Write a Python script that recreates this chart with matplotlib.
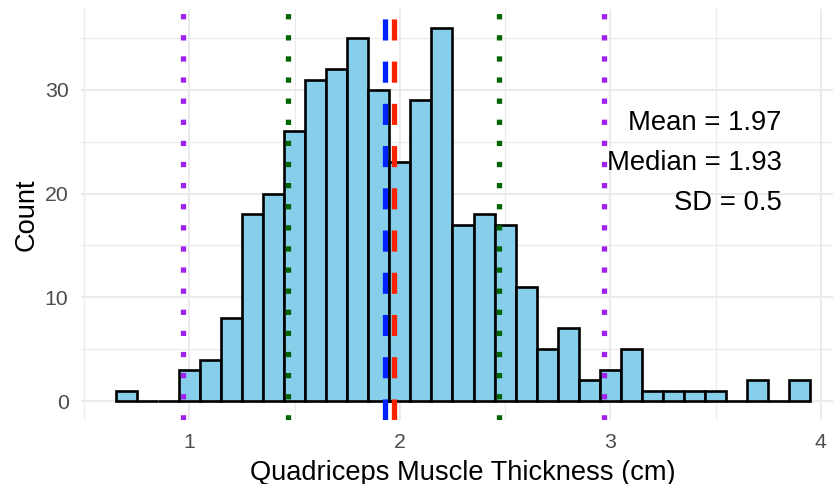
import numpy as np
import matplotlib
matplotlib.use("Agg")
import matplotlib.pyplot as plt
from matplotlib.ticker import MultipleLocator

# ---- data ----
bin_start = 0.65
bin_width = 0.1
counts = [1, 0, 0, 3, 4, 8, 18, 20, 26, 31, 32, 35, 30, 23, 29, 36, 17, 18, 17,
          11, 5, 7, 2, 3, 5, 1, 1, 1, 1, 0, 2, 0, 2]
mean_val = 1.97
median_val = 1.93
sd_val = 0.5
x_ticks = [1, 2, 3, 4]
y_ticks = [0, 10, 20, 30]
annot_lines = ["Mean = 1.97", "Median = 1.93", "SD = 0.5"]

plt.rcParams['font.family'] = ['Liberation Sans', 'DejaVu Sans']

W, H, DPI = 833, 484, 100
fig = plt.figure(figsize=(W / DPI, H / DPI), dpi=DPI)
fig.patch.set_facecolor('white')

# panel in pixel terms (right side extends past the image edge, as in the reference)
pl, pr, pt, pb = 81, 845, 9, 419.7
ax = fig.add_axes([pl / W, (H - pb) / H, (pr - pl) / W, (pb - pt) / H])
ax.set_facecolor('white')

n = len(counts)
edges = bin_start + bin_width * np.arange(n + 1)
lefts = edges[:-1]
ax.bar(lefts, counts, width=bin_width, align='edge', color='#87CEEB',
       edgecolor='black', linewidth=1.9, zorder=2)

lw = 3.8
ax.axvline(median_val, color='#0022FF', linewidth=lw, linestyle=(0, (4, 4)), zorder=3)
ax.axvline(mean_val, color='#FF2200', linewidth=lw, linestyle=(0, (4, 4)), zorder=3)
for k, col in [(1, '#006400'), (2, '#A020F0')]:
    for s in (-1, 1):
        ax.axvline(mean_val + s * k * sd_val, color=col, linewidth=lw,
                   linestyle=(0, (1, 3)), zorder=3)

# limits with 5% expansion like ggplot
xmin, xmax = edges[0], edges[-1]
xpad = 0.05 * (xmax - xmin)
ax.set_xlim(xmin - xpad, xmax + xpad)
ymax = max(counts)
ax.set_ylim(-0.05 * ymax, ymax * 1.05)

ax.set_xticks(x_ticks)
ax.set_yticks(y_ticks)
ax.xaxis.set_minor_locator(MultipleLocator(0.5))
ax.yaxis.set_minor_locator(MultipleLocator(5))
ax.grid(which='major', color='#EBEBEB', linewidth=1.5, zorder=0)
ax.grid(which='minor', color='#EBEBEB', linewidth=0.9, zorder=0)
ax.set_axisbelow(True)
for sp in ax.spines.values():
    sp.set_visible(False)
ax.tick_params(which='both', length=0)
ax.tick_params(axis='x', labelsize=15.3, labelcolor='#4D4D4D', pad=9.5)
ax.tick_params(axis='y', labelsize=15.3, labelcolor='#4D4D4D', pad=9)

ax.set_xlabel('Quadriceps Muscle Thickness (cm)', fontsize=19.6, labelpad=6)
ax.set_ylabel('Count', fontsize=19.6)
ax.yaxis.label.set(va='center', rotation_mode='anchor')
ax.yaxis.set_label_coords((27 - pl) / (pr - pl), 0.5)

# annotation block, right-aligned
ann_x = 3.815
for txt, yb in zip(annot_lines, [26.15, 22.3, 18.45]):
    ax.text(ann_x, yb, txt, ha='right', va='baseline', fontsize=19.8,
            color='black', zorder=4)

fig.savefig('out.png', dpi=DPI, facecolor='white')
